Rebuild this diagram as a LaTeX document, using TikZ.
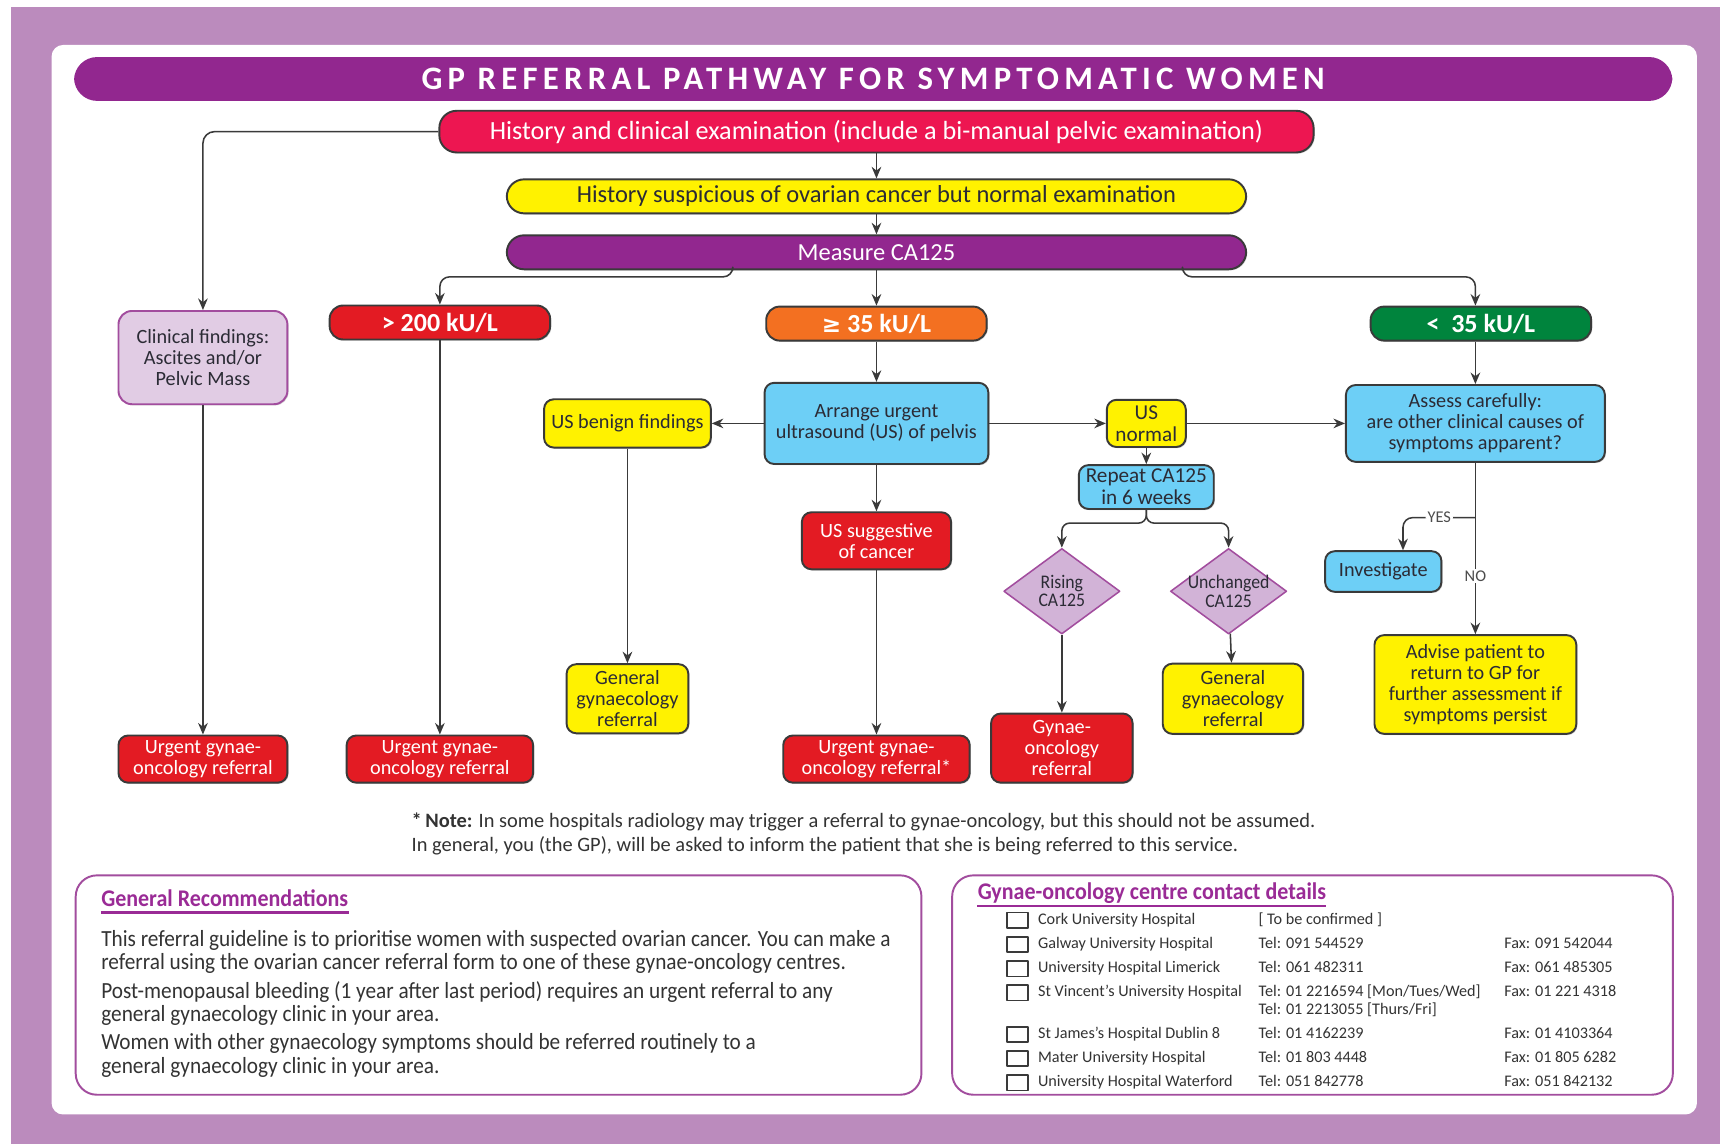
\documentclass[tikz,border=0pt]{standalone}
\usepackage{fontspec}
\setmainfont{Carlito}
\newfontfamily\condfont[FakeStretch=0.92]{Carlito}
\newfontfamily\titlefont[LetterSpace=16]{Carlito}
\newfontfamily\symfont{DejaVu Sans}
\usetikzlibrary{shapes.geometric,arrows.meta,shadows}
\definecolor{bgpurple}{HTML}{BB8BBD}
\definecolor{titlepurple}{HTML}{92278F}
\definecolor{histpink}{HTML}{ED1651}
\definecolor{boxyellow}{HTML}{FFF200}
\definecolor{boxblue}{HTML}{6DCFF6}
\definecolor{boxred}{HTML}{E31B23}
\definecolor{boxorange}{HTML}{F37021}
\definecolor{boxgreen}{HTML}{00843D}
\definecolor{lilac}{HTML}{E1CCE4}
\definecolor{lilacline}{HTML}{A24D9E}
\definecolor{diafill}{HTML}{D2B3D7}
\definecolor{edgegray}{HTML}{3A3A3A}
\definecolor{txtdark}{HTML}{2B2B35}
\definecolor{headpurple}{HTML}{9A2B96}
\newcommand\setfs[2]{\fontsize{#1}{#2}\selectfont}
\begin{document}
\begin{tikzpicture}[x=.02cm, y=-.02cm, >={Stealth[length=6pt,width=5pt]}, line join=round,
		wh/.style 2 args={minimum width=#1*.02cm, minimum height=#2*.02cm},
		box/.style={draw=edgegray, line width=1pt, rounded corners=5pt, align=center, inner sep=1pt, text=txtdark, font=\setfs{10.5}{10.8},
			drop shadow={shadow xshift=.6pt, shadow yshift=-.6pt, opacity=.35}},
		pill/.style={box, rounded corners=9pt},
		redbox/.style={box, fill=boxred, text=white},
		yelbox/.style={box, fill=boxyellow},
		bluebox/.style={box, fill=boxblue},
		kubox/.style={box, rounded corners=7pt, text=white, font=\bfseries\setfs{13.5}{15}, wh={201}{31}},
		dia/.style={diamond, aspect=1.36, draw=lilacline, fill=diafill, line width=.8pt, inner sep=-3pt, align=center, text=txtdark, font=\condfont\setfs{10}{9.5}, wh={106}{78}},
		link/.style={->, draw=edgegray, line width=.8pt},
		panel/.style={draw=lilacline, line width=1pt, rounded corners=11pt},
		lbl/.style={fill=white, inner sep=1pt, text=black!70, font=\setfs{8.5}{9}},
		row/.style={inner sep=0pt, text=black!80, font=\setfs{8.4}{9}, text height=6pt, text depth=2pt, anchor=west}]
	\useasboundingbox (0,0) rectangle (1568,1043);
	\fill[bgpurple] (10,6) rectangle (1568,1043);
	\fill[white, rounded corners=6pt] (47,41) rectangle (1547,1016);
	% title
	\node[fill=titlepurple, rounded corners=12pt, text=white, wh={1457}{40}, font=\titlefont\bfseries\setfs{17}{18}] (title) at (796,72) {GP REFERRAL PATHWAY FOR SYMPTOMATIC WOMEN};
	\node[pill, fill=histpink, text=white, wh={797}{38}, font=\setfs{13.6}{14}] (hist) at (799,120) {History and clinical examination (include a bi-manual pelvic examination)};
	\node[pill, fill=boxyellow, wh={674}{31}, font=\setfs{12.7}{13}] (susp) at (799,179) {History suspicious of ovarian cancer but normal examination};
	\node[pill, fill=titlepurple, text=white, wh={674}{31}, font=\setfs{12.7}{13}] (meas) at (799,230) {Measure CA125};
	% CA125 levels
	\node[kubox, fill=boxred] (high) at (401,294) {> 200 kU/L};
	\node[kubox, fill=boxorange] (mid) at (799,295) {{\symfont\bfseries\setfs{12}{15}≥} 35 kU/L};
	\node[kubox, fill=boxgreen] (low) at (1350,295) {<\ \ 35 kU/L};
	\node[box, fill=lilac, draw=lilacline, wh={154}{85}, rounded corners=7pt] (clin) at (185,326) {Clinical findings:\\Ascites and/or\\Pelvic Mass};
	\node[bluebox, wh={204}{74}] (arr) at (799,386) {Arrange urgent\\ultrasound (US) of pelvis};
	\node[yelbox, wh={152}{44}] (ben) at (572,386) {US benign findings};
	\node[yelbox, wh={72}{43}, font=\setfs{11}{11.5}] (usn) at (1045,386) {US\\normal};
	\node[bluebox, wh={236}{70}] (ass) at (1345,386) {Assess carefully:\\are other clinical causes of\\symptoms apparent?};
	\node[bluebox, wh={123}{40}, font=\setfs{11}{11.5}] (rep) at (1045,444) {Repeat CA125\\in 6 weeks};
	\node[dia] (ris) at (968,539) {Rising\\CA125};
	\node[dia] (unc) at (1120,539) {Unchanged\\CA125};
	\node[redbox, wh={136}{52}] (sug) at (799,493) {US suggestive\\of cancer};
	\node[bluebox, wh={106}{37}] (inv) at (1261,521) {Investigate};
	% referrals
	\node[yelbox, wh={111}{63}] (genleft) at (572,637) {General\\gynaecology\\referral};
	\node[yelbox, wh={128}{64}] (genright) at (1124,637) {General\\gynaecology\\referral};
	\node[yelbox, wh={184}{90}] (adv) at (1345,624) {Advise patient to\\return to GP for\\further assessment if\\symptoms persist};
	\node[redbox, wh={129}{63}] (gyn) at (968,682) {Gynae-\\oncology\\referral};
	\node[redbox, wh={154}{43}] (urgA) at (185,692) {Urgent gynae-\\oncology referral};
	\node[redbox, wh={170}{43}] (urgB) at (401,692) {Urgent gynae-\\oncology referral};
	\node[redbox, wh={170}{43}] (urgC) at (799,692) {Urgent gynae-\\oncology referral*};
	% arrows
	\draw[link] (hist) -- (susp);
	\draw[link] (susp) -- (meas);
	\draw[link, rounded corners=6pt] (hist.west) -| (clin.north);
	\draw[link, rounded corners=5pt] ([xshift=-2.62cm]meas.south) -- ++(0,6) -| (high.north);
	\draw[link, rounded corners=5pt] ([xshift=5.58cm]meas.south) -- ++(0,6) -| (low.north -| ass);
	\draw[link] (meas) -- (mid);
	\draw[link] (mid) -- (arr);
	\draw[link] (arr) -- (ben);
	\draw[link] (arr) -- (usn);
	\draw[link] (usn) -- (ass);
	\draw[link] (usn) -- (rep);
	\draw[link, rounded corners=4pt] (rep.south) -- ++(0,12) -| (ris.north);
	\draw[link, rounded corners=4pt] (rep.south) -- ++(0,12) -| (unc.north);
	\draw[link] (ris) -- (gyn);
	\draw[link] (unc) -- (genright);
	\draw[link] (arr) -- (sug);
	\draw[link] (sug) -- (urgC);
	\draw[link] (ben) -- (genleft);
	\draw[link] (clin) -- (urgA);
	\draw[link] (high) -- (urgB);
	\draw[link] (low.south -| ass) -- (ass.north);
	\draw[link] (ass) -- node[lbl, pos=.66] {NO} (adv);
	\draw[link, rounded corners=5pt] ([yshift=-1cm]ass.south) -| node[lbl, pos=.25] {YES} ([xshift=.36cm]inv.north);
	% note
	\node[anchor=west, align=left, inner sep=0pt, text=black!80, font=\setfs{10.6}{12.5}] (note) at (375,760) {\textbf{*\,Note:} In some hospitals radiology may trigger a referral to gynae-oncology, but this should not be assumed.\\In general, you (the GP), will be asked to inform the patient that she is being referred to this service.};
	% bottom panels
	\node[panel, wh={771}{200}] (recbox) at (454.5,898) {};
	\node[panel, wh={657}{200}] (contbox) at (1196.5,898) {};
	\node[anchor=base west, inner sep=0pt, text=headpurple, font=\condfont\bfseries\setfs{12.4}{13}] (rechead) at (92,826) {General Recommendations};
	\draw[headpurple, line width=1.2pt] ([yshift=-3.4pt]rechead.base west) -- ([yshift=-3.4pt]rechead.base east);
	\node[anchor=north west, align=left, inner sep=0pt, text=black!80, font=\condfont\setfs{12}{12}] (rectext) at (92,848) {This referral guideline is to prioritise women with suspected ovarian cancer. You can make a\\referral using the ovarian cancer referral form to one of these gynae-oncology centres.\\[2.8pt]Post-menopausal bleeding (1 year after last period) requires an urgent referral to any\\general gynaecology clinic in your area.\\[2.8pt]Women with other gynaecology symptoms should be referred routinely to a\\general gynaecology clinic in your area.};
	\node[anchor=base west, inner sep=0pt, text=headpurple, font=\condfont\bfseries\setfs{12.4}{13}] (conthead) at (891,820) {Gynae-oncology centre contact details};
	\draw[headpurple, line width=1.2pt] ([yshift=-3.4pt]conthead.base west) -- ([yshift=-3.4pt]conthead.base east);
	\foreach \yy/\hname/\htel/\hfax in {839/Cork University Hospital/{[ To be confirmed ]}/{},
			861/Galway University Hospital/{Tel: 091 544529}/{Fax: 091 542044},
			883/University Hospital Limerick/{Tel: 061 482311}/{Fax: 061 485305},
			905/St Vincent's University Hospital/{Tel: 01 2216594 [Mon/Tues/Wed]}/{Fax: 01 221 4318},
			943/St James's Hospital Dublin 8/{Tel: 01 4162239}/{Fax: 01 4103364},
			965/Mater University Hospital/{Tel: 01 803 4448}/{Fax: 01 805 6282},
			987/University Hospital Waterford/{Tel: 051 842778}/{Fax: 051 842132}}{
		\draw[edgegray, line width=.8pt] (918,\yy-7) rectangle (937,\yy+7);
		\node[row] (name\yy) at (946,\yy) {\hname};
		\node[row] (tel\yy) at (1147,\yy) {\htel};
		\node[row] (fax\yy) at (1371,\yy) {\hfax};
	}
	\node[row] (telvincent) at (1147,921) {Tel: 01 2213055 [Thurs/Fri]};
\end{tikzpicture}
\end{document}
